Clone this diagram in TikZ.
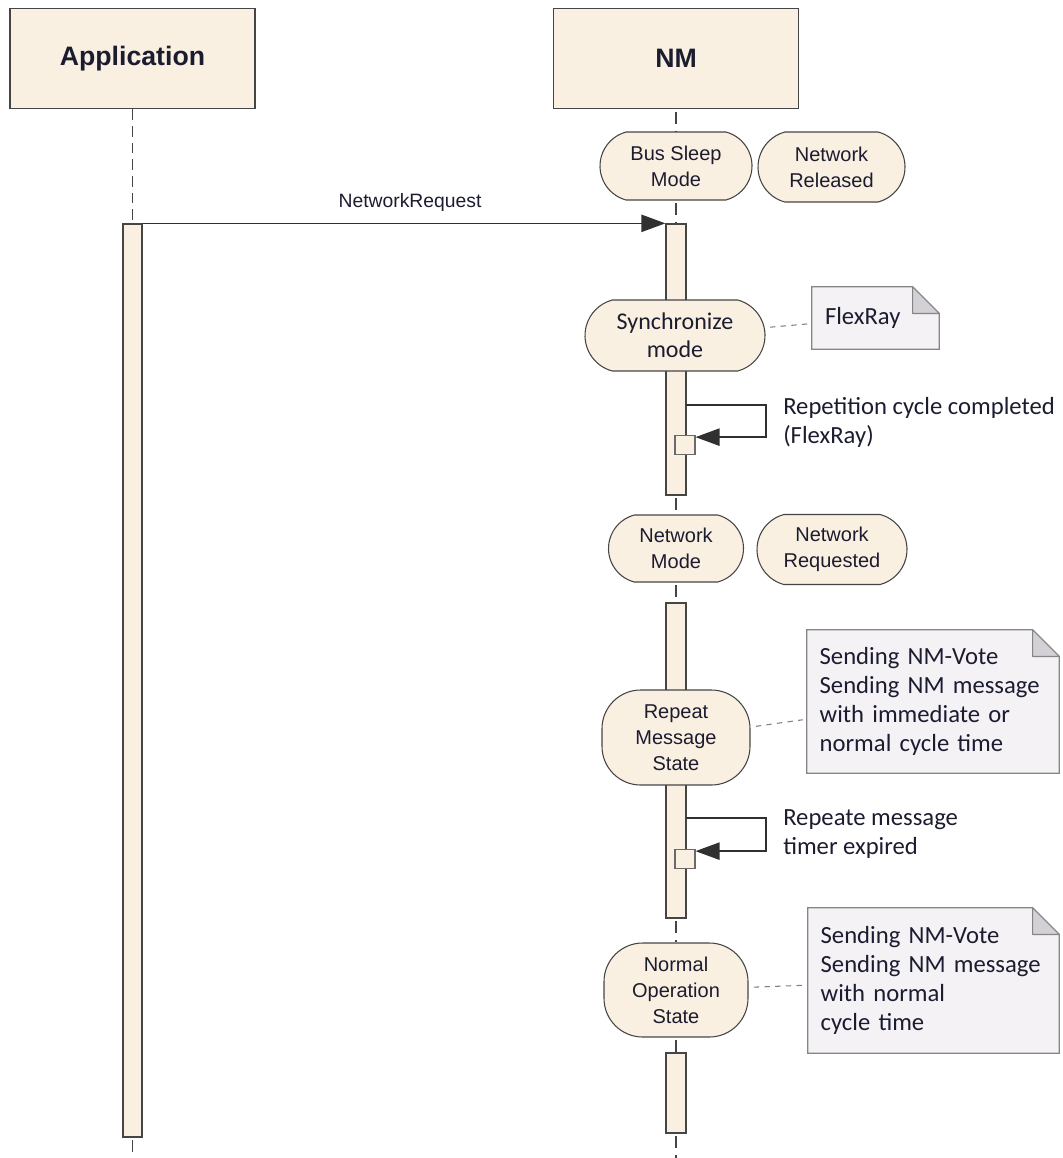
\documentclass[tikz,border=0pt]{standalone}
\usepackage{fontspec}
\setmainfont{Liberation Sans}
\newfontfamily\calib{Carlito}
\usetikzlibrary{arrows.meta,backgrounds,shapes.misc}
\definecolor{beige}{HTML}{FAF0E1}
\definecolor{notefill}{HTML}{F5F2F6}
\definecolor{foldfill}{HTML}{D3D0D6}
\definecolor{notegray}{HTML}{858585}
\definecolor{edge}{HTML}{454545}
\definecolor{msgc}{HTML}{303030}
\definecolor{txt}{HTML}{1C1C30}
\hyphenpenalty=10000
\exhyphenpenalty=10000
\newcommand\drawnotebody[1]{%
  \draw[draw=notegray, fill=notefill, line width=0.9pt]
    (#1.south west) -- (#1.north west) -- ([xshift=-20pt]#1.north east)
    -- ([yshift=-20pt]#1.north east) -- (#1.south east) -- cycle;
  \draw[draw=notegray, fill=foldfill, line width=0.9pt, line join=round]
    ([xshift=-20pt]#1.north east) -- ([xshift=-20pt,yshift=-20pt]#1.north east)
    -- ([yshift=-20pt]#1.north east) -- cycle;}
\begin{document}
\begin{tikzpicture}[x=0.75pt,y=-0.75pt,
  head/.style={draw=edge, fill=beige, line width=1pt, minimum width=183.75pt,
    minimum height=75pt, inner sep=0pt, text=txt, font=\fontsize{20}{24}\selectfont\bfseries},
  state/.style={draw=edge, fill=beige, line width=0.8pt, rounded corners=29pt,
    inner sep=0pt, align=center, text=txt, font=\fontsize{15}{19.5}\selectfont},
  oval/.style={draw=edge, fill=beige, line width=0.8pt, rounded rectangle,
    rounded rectangle arc length=150,
    inner sep=0pt, align=center, text=txt, font=\fontsize{15}{19.5}\selectfont},
  bar/.style={draw=edge, fill=beige, line width=1pt, minimum width=15pt, inner sep=0pt},
  actbox/.style={draw=edge!80, fill=beige, line width=0.8pt, minimum width=15pt,
    minimum height=14pt, inner sep=0pt},
  note/.style={draw=none, inner xsep=9.5pt, inner ysep=0pt, align=left, text=txt,
    font=\calib\fontsize{18.5}{21.75}\selectfont},
  life/.style={draw=edge, line width=1pt, dash pattern=on 9pt off 5pt, dash phase=12pt},
  msg/.style={draw=msgc, line width=1pt, -{Triangle[length=18pt,width=13pt]}},
  notelink/.style={draw=gray, line width=0.8pt, dash pattern=on 4pt off 4pt,
    shorten <=4pt, shorten >=3pt},
  lbl/.style={inner sep=0pt, align=left, text=txt},
  cal/.style={font=\calib\fontsize{18.5}{21.75}\selectfont},
  ari/.style={font=\fontsize{14.5}{17}\selectfont}
]
\useasboundingbox (0,0) rectangle (1063,1158);

% lifeline heads
\node[head] (app) at (132.5,58.5) {Application};
\node[head] (nm) at (676,58.5) {NM};

% activation bars
\node[bar, minimum width=14.25pt, minimum height=684.75pt] (appbar) at (132.5,680.5) {};
\node[bar, minimum height=203.25pt] (bar1) at (676,359.5) {};
\node[bar, minimum height=236.25pt] (bar2) at (676,760.5) {};
\node[bar, minimum height=60pt] (bar3) at (676,1093) {};

% states
\node[oval, minimum width=114pt, minimum height=51pt] (bus) at (676,166) {Bus Sleep\\Mode};
\node[oval, minimum width=110.25pt, minimum height=52.5pt] (netrel) at (831.5,167) {Network\\Released};
\node[oval, minimum width=135pt, minimum height=53.25pt, font=\calib\fontsize{18}{21}\selectfont] (sync) at (675,335.5) {Synchronize\\mode};
\node[oval, minimum width=101.25pt, minimum height=50.25pt] (netmode) at (676,548.5) {Network\\Mode};
\node[oval, minimum width=112.5pt, minimum height=52.5pt] (netreq) at (832,549.5) {Network\\Requested};
\node[state, minimum width=111pt, minimum height=71.25pt] (repeat) at (676,737.5) {Repeat\\Message\\State};
\node[state, minimum width=108pt, minimum height=70.5pt] (normal) at (676,990) {Normal\\Operation\\State};

% notes
\node[note, text width=75.75pt, inner xsep=9.75pt, minimum width=95.25pt, minimum height=46.5pt] (flex) at (875.5,318) {FlexRay};
\node[note, text width=170pt, minimum width=189pt, minimum height=107.25pt] (note1) at (933,701.5)
  {Sending NM-Vote\\Sending NM message\\with immediate or\\normal cycle time};
\node[note, text width=169.25pt, minimum width=188.25pt, minimum height=108.75pt] (note2) at (933.5,980.5)
  {Sending NM-Vote\\Sending NM message\\with normal\\cycle time};
\begin{scope}[on background layer]
  \drawnotebody{flex}
  \drawnotebody{note1}
  \drawnotebody{note2}
\end{scope}

% note links
\draw[notelink] (sync) -- (flex);
\draw[notelink] (repeat) -- (note1);
\draw[notelink] (normal) -- (note2);

% lifelines
\coordinate (append) at (132.5,1158);
\coordinate (nmend) at (676,1158);
\draw[life, dash pattern=on 8pt off 4.5pt, dash phase=0pt] (app.south) -- (appbar.north);
\draw[life] (appbar.south) -- (append);
\draw[life] (nm.south) -- (bus.north);
\draw[life] (bus.south) -- (bar1.north);
\draw[life] (bar1.south) -- (netmode.north);
\draw[life] (netmode.south) -- (bar2.north);
\draw[life] (bar2.south) -- (normal.north);
\draw[life] (normal.south) -- (bar3.north);
\draw[life] (bar3.south) -- (nmend);

% message NetworkRequest
\draw[msg] (appbar.north east) -- (bar1.north west);
\node[lbl, ari] (reqlbl) at (410,202) {NetworkRequest};

% self messages
\node[actbox] (act1) at (685,445) {};
\node[actbox] (act2) at (685,859) {};
\coordinate (s1) at (686,405);
\coordinate (s2) at (686,818);
\draw[msg] (s1) -- ++(80,0) |- ([yshift=-1.5pt]act1.north east);
\draw[msg] (s2) -- ++(80,0) |- ([yshift=-1.5pt]act2.north east);
\node[lbl, cal, anchor=west] (lbl1) at (783,422.5) {Repetition cycle completed\\(FlexRay)};
\node[lbl, cal, anchor=west] (lbl2) at (783,834) {Repeate message\\timer expired};
\end{tikzpicture}
\end{document}
